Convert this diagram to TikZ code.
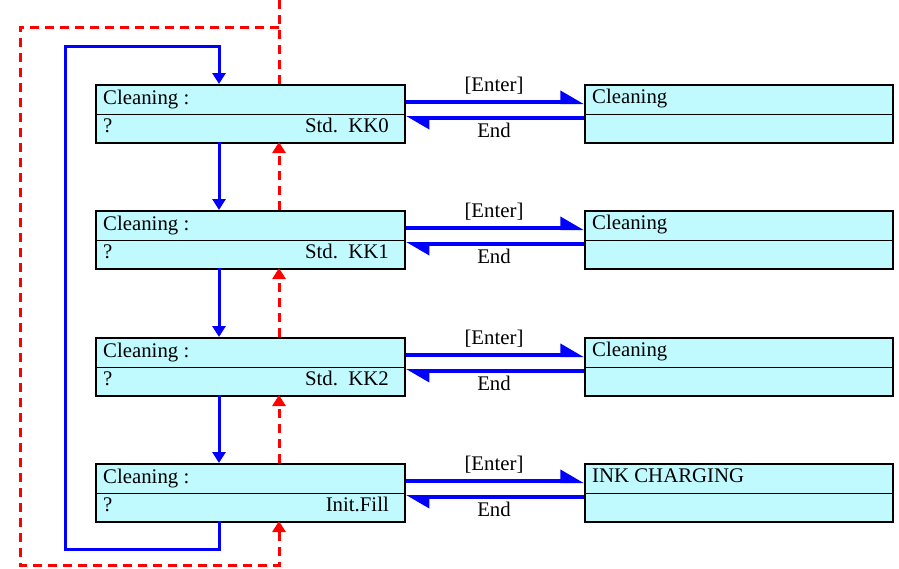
\documentclass[tikz,border=0pt]{standalone}
\usepackage{fontspec}
\setmainfont{Liberation Serif}
\usetikzlibrary{arrows.meta}
\definecolor{lcdcyan}{RGB}{192,250,255}
\begin{document}
\begin{tikzpicture}[x=1pt,y=-1pt,
	lcd/.style={draw=black,line width=1.8pt,fill=lcdcyan,minimum width=309pt,minimum height=58pt,inner sep=0pt,anchor=north west},
	txt/.style={inner sep=0pt,font=\fontsize{20.8}{24}\selectfont},
	bluearrow/.style={draw=blue,line width=3pt,-{Triangle[length=11pt,width=13pt]}},
	redarrow/.style={draw=red,line width=3pt,dash pattern=on 9pt off 6pt,-{Triangle[length=11pt,width=13pt]}},
	harpoon/.style={draw=blue,line width=4pt,-{Triangle[left,length=20pt,width=22pt]}}]
	\useasboundingbox (0,0) rectangle (899,568);
	\foreach \i/\y/\val/\res in {0/84/Std.\ \ KK0/Cleaning,1/210/Std.\ \ KK1/Cleaning,2/337/Std.\ \ KK2/Cleaning,3/463/Init.Fill/INK CHARGING}{
		\node[lcd] (L\i) at (95,\y) {};\node[lcd,minimum width=308pt] (R\i) at (584,\y) {};
		\draw[line width=0.8pt] (L\i.west)--(L\i.east);\draw[line width=0.8pt] (R\i.west)--(R\i.east);
		\node[txt,anchor=base west] (Lt\i) at (103,\y+20) {Cleaning :};
		\node[txt,anchor=base west] (Lq\i) at (103,\y+48) {?};
		\node[txt,anchor=base east] (Lv\i) at (389,\y+48) {\val};
		\node[txt,anchor=base west] (Rt\i) at (592,\y+19) {\res};
		\coordinate (T\i) at (219,\y);\coordinate (B\i) at (219,\y+58);
		\coordinate (RT\i) at (279,\y);\coordinate (RB\i) at (279,\y+58);
		\coordinate (E\i) at (0,\y+18);\coordinate (N\i) at (0,\y+34);
		\draw[harpoon] (L\i.east|-E\i)--(R\i.west|-E\i);
		\draw[harpoon] (R\i.west|-N\i)--(L\i.east|-N\i);
		\node[txt,anchor=base] (en\i) at (494,\y+7) {[Enter]};
		\node[txt,anchor=base] (ed\i) at (494,\y+53) {End};
	}
	\foreach \i/\j in {0/1,1/2,2/3}{
		\draw[bluearrow] (B\i)--(T\j);
		\draw[redarrow] (RT\j)--(RB\i);
	}
	\coordinate (redtop) at (279,0);
	\draw[bluearrow] (B3)--++(0,28)-|(65,46)-|(T0);
	\draw[draw=red,line width=3pt,dash pattern=on 9pt off 6pt] (RT0)--(redtop);
	\draw[redarrow] (279,27)-|(20,565)-|(RB3);
\end{tikzpicture}
\end{document}
